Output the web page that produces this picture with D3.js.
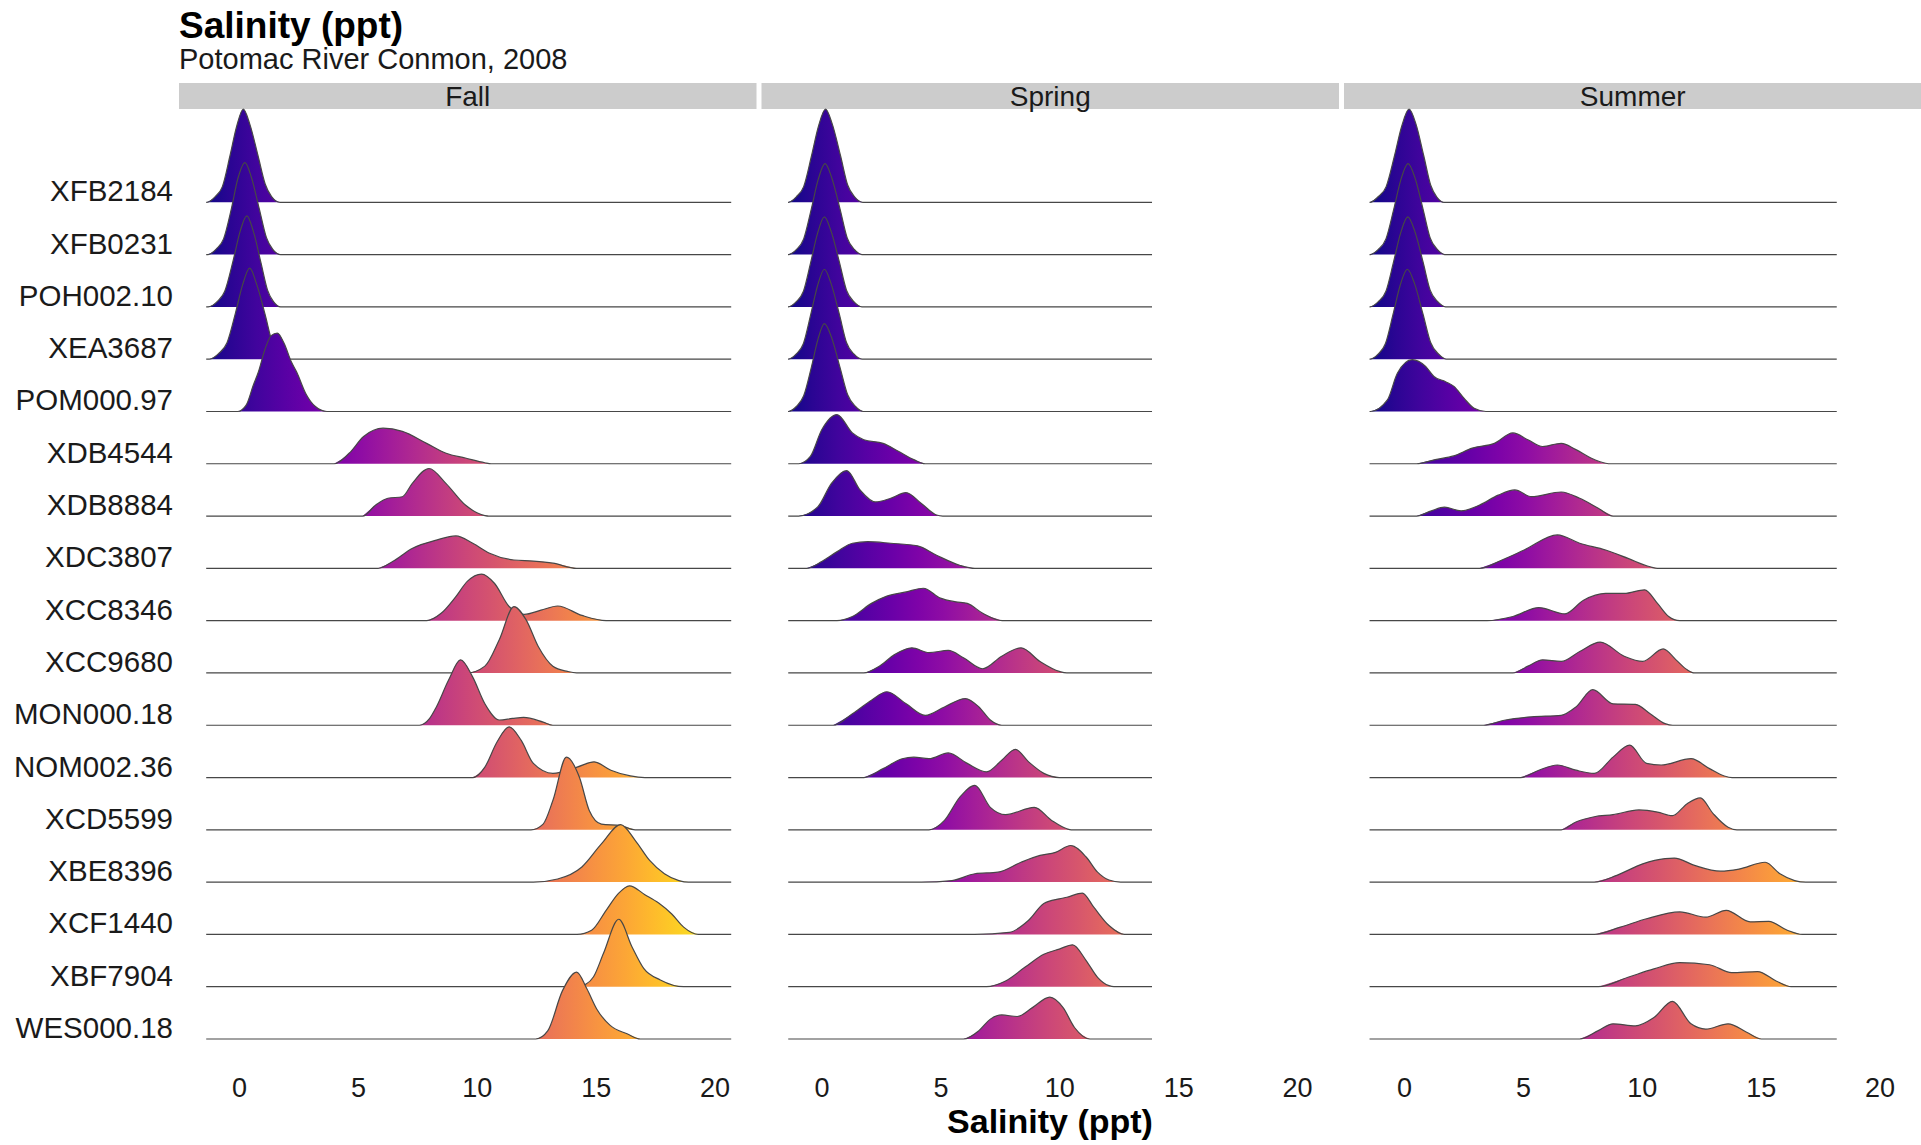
<!DOCTYPE html>
<html><head><meta charset="utf-8">
<script src="https://cdn.jsdelivr.net/npm/d3@7"></script>
<style>body{margin:0;background:#fff} svg text{font-family:"Liberation Sans",Arial,Helvetica,sans-serif}</style>
</head><body><svg id="c" width="1921" height="1145"></svg>
<script>
// ---------------- data ----------------
const seasons = ["Fall", "Spring", "Summer"];
const stations = ["XFB2184","XFB0231","POH002.10","XEA3687","POM000.97","XDB4544","XDB8884","XDC3807",
  "XCC8346","XCC9680","MON000.18","NOM002.36","XCD5599","XBE8396","XCF1440","XBF7904","WES000.18"];
const xTicks = [0, 5, 10, 15, 20];
// extent of the density line in each panel (ppt)
const lineExtent = [[-1.38, 20.7], [-1.4, 13.9], [-1.45, 18.2]];
// colour-scale range of salinity (ppt)
const fillRange = [-1.49, 20.7];
// ridge outlines: [salinity, height in row units], top station first
const fallRidges = [
  [[-1.36,0],[-1.0,0.11],[-0.7,0.3],[-0.38,0.89],[-0.1,1.45],[0.18,1.78],[0.45,1.5],[0.8,0.89],[1.1,0.35],[1.37,0.11],[1.73,0]],
  [[-1.32,0],[-0.95,0.11],[-0.65,0.3],[-0.32,0.88],[-0.05,1.45],[0.25,1.76],[0.52,1.48],[0.85,0.88],[1.15,0.33],[1.42,0.1],[1.75,0]],
  [[-1.3,0],[-0.9,0.11],[-0.6,0.3],[-0.25,0.88],[0.05,1.45],[0.33,1.74],[0.6,1.45],[0.92,0.85],[1.2,0.32],[1.45,0.1],[1.75,0]],
  [[-1.25,0],[-0.85,0.11],[-0.5,0.32],[-0.15,0.88],[0.15,1.42],[0.45,1.74],[0.75,1.42],[1.1,0.85],[1.4,0.32],[1.7,0.1],[2.0,0]],
  [[-0.05,0],[0.3,0.12],[0.6,0.5],[0.81,0.75],[1.1,1.2],[1.35,1.45],[1.61,1.5],[1.9,1.3],[2.2,0.95],[2.43,0.75],[2.8,0.35],[3.2,0.1],[3.7,0]],
  [[4.0,0],[4.63,0.2],[5.24,0.52],[6.06,0.68],[6.87,0.62],[7.89,0.39],[8.71,0.2],[9.52,0.11],[10.34,0.02],[10.6,0]],
  [[5.2,0],[5.75,0.21],[6.26,0.34],[6.87,0.37],[7.28,0.62],[7.99,0.91],[8.71,0.62],[9.52,0.21],[10.34,0.01],[10.5,0]],
  [[5.85,0],[6.46,0.13],[7.28,0.38],[8.3,0.54],[9.12,0.62],[9.83,0.48],[10.54,0.29],[11.56,0.16],[12.38,0.14],[13.2,0.1],[14.2,0]],
  [[7.89,0],[8.5,0.14],[9.12,0.46],[9.6,0.75],[10.2,0.89],[10.75,0.71],[11.36,0.27],[12.0,0.12],[12.7,0.2],[13.4,0.28],[14.42,0.1],[15.44,0]],
  [[9.6,0],[10.34,0.13],[10.95,0.64],[11.56,1.27],[12.07,1.02],[12.58,0.51],[13.2,0.13],[13.81,0.03],[14.2,0]],
  [[7.59,0],[8.0,0.12],[8.3,0.35],[8.81,0.86],[9.32,1.25],[9.83,0.92],[10.34,0.41],[10.95,0.1],[11.5,0.13],[11.97,0.15],[12.79,0.06],[13.2,0]],
  [[9.83,0],[10.34,0.2],[10.85,0.68],[11.36,0.97],[11.87,0.71],[12.38,0.27],[13.2,0.08],[14.22,0.2],[14.93,0.3],[15.64,0.14],[16.46,0.03],[17.07,0]],
  [[12.28,0],[12.79,0.11],[13.2,0.56],[13.77,1.39],[14.32,1.0],[14.73,0.37],[15.24,0.11],[16.05,0.08],[16.66,0]],
  [[12.38,0],[13.4,0.06],[14.42,0.29],[15.24,0.73],[16.05,1.1],[16.66,0.8],[17.28,0.41],[17.89,0.16],[18.5,0.03],[18.9,0]],
  [[14.22,0],[14.83,0.08],[15.44,0.46],[15.95,0.78],[16.42,0.93],[17.07,0.76],[17.65,0.6],[18.2,0.39],[18.7,0.14],[19.32,0]],
  [[14.2,0],[14.6,0.05],[14.91,0.19],[15.33,0.64],[15.97,1.29],[16.53,0.76],[17.02,0.35],[17.72,0.13],[18.7,0]],
  [[12.48,0],[12.99,0.16],[13.6,0.92],[14.2,1.28],[14.63,0.96],[15.05,0.57],[15.61,0.26],[16.32,0.1],[16.88,0]]
];
const springRidges = [
  [[-1.4,0],[-1.05,0.11],[-0.75,0.3],[-0.42,0.89],[-0.13,1.45],[0.17,1.78],[0.45,1.5],[0.8,0.89],[1.1,0.33],[1.4,0.1],[1.74,0]],
  [[-1.4,0],[-1.05,0.1],[-0.75,0.3],[-0.43,0.87],[-0.15,1.42],[0.15,1.74],[0.43,1.47],[0.78,0.87],[1.08,0.32],[1.38,0.1],[1.72,0]],
  [[-1.4,0],[-1.06,0.1],[-0.76,0.3],[-0.45,0.86],[-0.17,1.4],[0.12,1.72],[0.4,1.45],[0.75,0.86],[1.05,0.32],[1.36,0.1],[1.7,0]],
  [[-1.4,0],[-1.06,0.1],[-0.76,0.3],[-0.45,0.86],[-0.17,1.4],[0.12,1.72],[0.4,1.45],[0.75,0.86],[1.05,0.32],[1.36,0.1],[1.72,0]],
  [[-1.4,0],[-1.05,0.1],[-0.75,0.3],[-0.43,0.84],[-0.15,1.38],[0.12,1.68],[0.42,1.42],[0.78,0.84],[1.1,0.32],[1.42,0.1],[1.76,0]],
  [[-0.96,0],[-0.47,0.14],[0.01,0.65],[0.65,0.94],[1.3,0.59],[1.78,0.46],[2.59,0.39],[3.23,0.24],[3.88,0.08],[4.36,0]],
  [[-0.96,0],[-0.15,0.18],[0.41,0.62],[1.06,0.87],[1.62,0.5],[2.27,0.27],[2.91,0.34],[3.55,0.45],[4.2,0.24],[4.84,0.02],[5.1,0]],
  [[-0.63,0],[0.01,0.13],[0.66,0.32],[1.3,0.48],[1.94,0.51],[2.91,0.48],[4.04,0.43],[4.84,0.25],[5.81,0.06],[6.45,0]],
  [[0.65,0],[1.3,0.08],[2.1,0.33],[2.75,0.47],[3.56,0.55],[4.28,0.62],[5.0,0.43],[5.65,0.36],[6.13,0.33],[6.78,0.14],[7.6,0]],
  [[1.78,0],[2.43,0.13],[3.07,0.35],[3.8,0.48],[4.52,0.39],[5.33,0.43],[5.97,0.29],[6.78,0.08],[7.58,0.32],[8.39,0.48],[9.19,0.22],[10.0,0.03],[10.32,0]],
  [[0.49,0],[1.3,0.22],[2.1,0.48],[2.75,0.64],[3.56,0.41],[4.36,0.19],[5.17,0.35],[6.05,0.51],[6.62,0.35],[7.1,0.1],[7.58,0]],
  [[1.78,0],[2.59,0.17],[3.39,0.36],[3.88,0.39],[4.52,0.36],[5.33,0.47],[6.13,0.27],[6.94,0.11],[7.58,0.33],[8.15,0.54],[8.71,0.3],[9.35,0.08],[10.0,0]],
  [[4.52,0],[5.17,0.18],[5.81,0.62],[6.45,0.85],[7.1,0.43],[7.74,0.29],[8.95,0.43],[9.68,0.18],[10.32,0.02],[10.5,0]],
  [[4.2,0],[5.49,0.03],[6.45,0.16],[7.42,0.19],[8.39,0.38],[9.19,0.51],[9.84,0.57],[10.48,0.7],[11.13,0.48],[11.61,0.19],[12.09,0.04],[12.58,0]],
  [[6.45,0],[7.9,0.04],[8.71,0.27],[9.35,0.59],[10.0,0.68],[10.32,0.71],[10.97,0.79],[11.45,0.52],[12.09,0.17],[12.74,0]],
  [[6.94,0],[7.74,0.11],[8.55,0.37],[9.35,0.62],[10.0,0.72],[10.56,0.8],[11.13,0.5],[11.61,0.18],[12.09,0.02],[12.3,0]],
  [[5.97,0],[6.62,0.16],[7.1,0.38],[7.58,0.46],[8.23,0.43],[8.87,0.6],[9.6,0.8],[10.16,0.6],[10.64,0.22],[11.29,0]]
];
const summerRidges = [
  [[-1.43,0],[-1.08,0.11],[-0.75,0.3],[-0.4,0.89],[-0.1,1.45],[0.21,1.78],[0.5,1.5],[0.83,0.89],[1.12,0.33],[1.38,0.1],[1.68,0]],
  [[-1.43,0],[-1.08,0.1],[-0.76,0.3],[-0.43,0.87],[-0.14,1.42],[0.17,1.74],[0.46,1.47],[0.8,0.87],[1.1,0.32],[1.4,0.1],[1.72,0]],
  [[-1.43,0],[-1.08,0.1],[-0.76,0.3],[-0.44,0.86],[-0.15,1.4],[0.16,1.72],[0.45,1.45],[0.8,0.86],[1.1,0.32],[1.42,0.1],[1.75,0]],
  [[-1.43,0],[-1.08,0.1],[-0.78,0.3],[-0.46,0.86],[-0.17,1.4],[0.14,1.72],[0.44,1.45],[0.8,0.86],[1.12,0.32],[1.45,0.1],[1.78,0]],
  [[-1.4,0],[-0.7,0.22],[-0.28,0.73],[0.35,0.99],[0.91,0.86],[1.26,0.67],[1.75,0.57],[2.1,0.48],[2.53,0.25],[2.95,0.06],[3.44,0]],
  [[0.53,0],[1.31,0.08],[2.09,0.15],[2.87,0.3],[3.8,0.39],[4.58,0.59],[5.21,0.46],[5.83,0.33],[6.61,0.39],[7.23,0.27],[7.86,0.11],[8.48,0.01],[8.7,0]],
  [[0.53,0],[1.15,0.1],[1.7,0.17],[2.4,0.1],[3.18,0.21],[3.96,0.4],[4.66,0.5],[5.36,0.37],[6.61,0.46],[7.39,0.34],[8.17,0.15],[8.79,0]],
  [[3.18,0],[4.12,0.16],[5.05,0.35],[6.45,0.64],[7.39,0.48],[8.48,0.35],[9.42,0.19],[10.35,0.03],[10.66,0]],
  [[3.49,0],[4.58,0.08],[5.67,0.25],[6.77,0.13],[7.55,0.39],[8.48,0.52],[9.26,0.52],[10.12,0.59],[10.66,0.33],[11.13,0.08],[11.6,0]],
  [[4.58,0],[5.21,0.13],[5.83,0.25],[6.61,0.22],[7.39,0.41],[8.25,0.59],[9.26,0.32],[10.04,0.22],[10.9,0.46],[11.44,0.25],[11.91,0.06],[12.22,0]],
  [[3.34,0],[4.27,0.1],[5.36,0.16],[6.61,0.19],[7.23,0.35],[7.94,0.68],[8.79,0.41],[9.73,0.4],[10.35,0.22],[10.98,0.03],[11.3,0]],
  [[4.9,0],[5.67,0.14],[6.45,0.24],[7.23,0.14],[8.0,0.08],[8.79,0.39],[9.49,0.62],[10.2,0.27],[10.82,0.24],[12.07,0.36],[12.85,0.17],[13.47,0.03],[13.8,0]],
  [[6.61,0],[7.23,0.15],[8.0,0.25],[8.79,0.29],[9.88,0.38],[10.66,0.34],[11.29,0.27],[11.91,0.5],[12.46,0.61],[13.0,0.31],[13.63,0.05],[14.0,0]],
  [[8.0,0],[8.95,0.13],[10.04,0.35],[10.98,0.45],[11.37,0.46],[12.22,0.32],[13.31,0.21],[14.09,0.25],[15.19,0.38],[15.81,0.16],[16.43,0.03],[16.9,0]],
  [[8.0,0],[9.1,0.14],[10.2,0.3],[11.6,0.43],[12.69,0.33],[13.55,0.46],[14.56,0.24],[15.34,0.25],[16.12,0.08],[16.74,0]],
  [[8.17,0],[9.42,0.18],[10.51,0.34],[11.6,0.46],[12.85,0.42],[13.78,0.27],[14.87,0.29],[15.65,0.11],[16.28,0]],
  [[7.39,0],[8.17,0.16],[8.79,0.29],[9.73,0.25],[10.51,0.41],[11.29,0.72],[12.07,0.29],[12.69,0.19],[13.63,0.29],[14.41,0.13],[15.03,0]]
];
const titleText = "Salinity (ppt)";
const subtitleText = "Potomac River Conmon, 2008";
const xTitleText = "Salinity (ppt)";

// ---------------- drawing ----------------
const svg = d3.select("#c");
svg.append("rect").attr("width", 1921).attr("height", 1145).attr("fill", "#fff");
const panelLeft0 = 179, panelW = 577.5, panelGap = 5;
const x = d3.scaleLinear().domain([-2.524, 21.764]).range([0, panelW]);
const y = d3.scalePoint().domain(stations).range([202.3, 1039]);
const step = y.step();
const hgt = d3.scaleLinear().domain([0, 1]).range([0, step]);

const defs = svg.append("defs");
const grad = defs.append("linearGradient").attr("id", "plasmaGrad")
  .attr("gradientUnits", "userSpaceOnUse")
  .attr("x1", x(fillRange[0])).attr("x2", x(fillRange[1])).attr("y1", 0).attr("y2", 0);
d3.range(0, 1.0001, 0.05).forEach(t => {
  grad.append("stop").attr("offset", t).attr("stop-color", d3.interpolatePlasma(t));
});

// titles
svg.append("text").attr("x", 179).attr("y", 38).attr("font-size", 37).attr("font-weight", "bold")
  .attr("fill", "#000").text(titleText);
svg.append("text").attr("x", 179).attr("y", 69).attr("font-size", 29).attr("fill", "#1a1a1a").text(subtitleText);

// y labels
svg.append("g").selectAll("text").data(stations).join("text")
  .attr("x", 173).attr("y", d => y(d) - 1).attr("text-anchor", "end")
  .attr("font-size", 29.5).attr("fill", "#1a1a1a").text(d => d);

const allRidges = [fallRidges, springRidges, summerRidges];
seasons.forEach((s, i) => {
  const g = svg.append("g").attr("transform", `translate(${panelLeft0 + i * (panelW + panelGap)},0)`);
  // strip
  g.append("rect").attr("x", 0).attr("y", 83).attr("width", panelW).attr("height", 26).attr("fill", "#cccccc");
  g.append("text").attr("x", panelW / 2).attr("y", 105.5).attr("text-anchor", "middle")
    .attr("font-size", 28).attr("fill", "#1a1a1a").text(s);

  const [from, to] = lineExtent[i];
  allRidges[i].forEach((pts, j) => {
    const base = y(stations[j]);
    let p = pts.slice();
    const f = Math.min(from, p[0][0] - 0.01);
    const t2 = Math.max(to, p[p.length - 1][0] + 0.01);
    p = [[f, 0]].concat(p, [[t2, 0]]);
    const area = d3.area().x(d => x(d[0])).y0(base).y1(d => base - hgt(d[1])).curve(d3.curveMonotoneX);
    const line = d3.line().x(d => x(d[0])).y(d => base - hgt(d[1])).curve(d3.curveMonotoneX);
    g.append("path").attr("d", area(pts)).attr("fill", "url(#plasmaGrad)");
    g.append("path").attr("d", line(p)).attr("fill", "none").attr("stroke", "#474747").attr("stroke-width", 1.2);
  });

  // x axis
  const ax = g.append("g").attr("transform", "translate(0,1075)")
    .call(d3.axisBottom(x).tickValues(xTicks).tickSize(0).tickPadding(3).tickFormat(d3.format("d")));
  ax.select(".domain").remove();
  ax.selectAll("text").attr("font-size", 27).attr("fill", "#1a1a1a")
    .attr("font-family", '"Liberation Sans",Arial,Helvetica,sans-serif');
});

svg.append("text").attr("x", 1050).attr("y", 1133).attr("text-anchor", "middle")
  .attr("font-size", 34).attr("font-weight", "bold").attr("fill", "#000").text(xTitleText);
</script></body></html>
